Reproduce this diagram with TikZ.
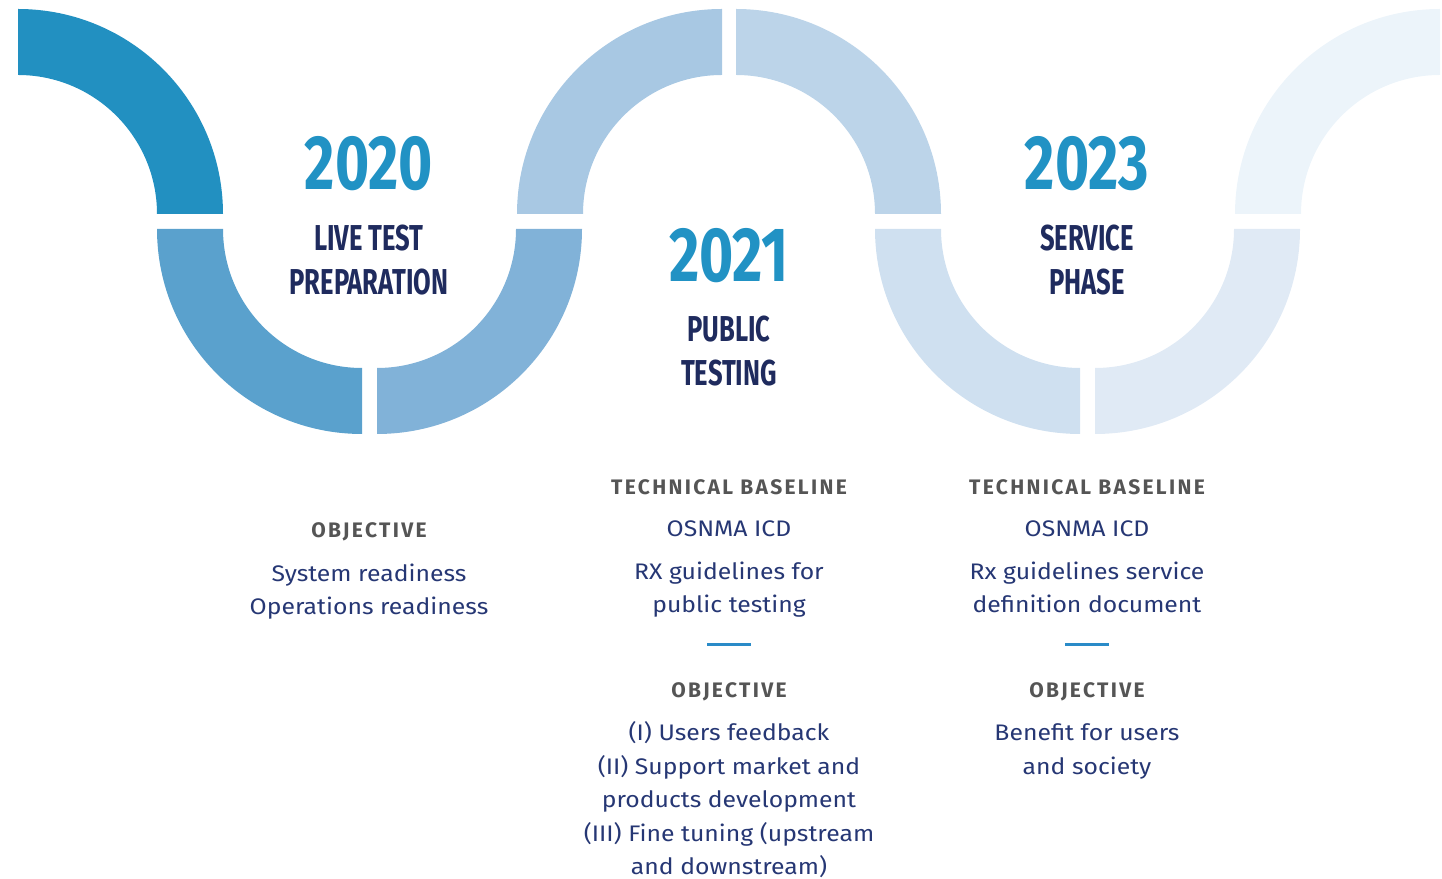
\documentclass[tikz,border=0pt]{standalone}
\usepackage{fontspec}
\setmainfont[FakeStretch=1.1]{Fira Sans}
\newfontfamily\yearfont[FakeStretch=0.76]{Fira Sans}
\newfontfamily\phasefont[FakeStretch=0.71]{Fira Sans}
\newfontfamily\capsfont[LetterSpace=11]{Fira Sans}
\definecolor{bandA}{HTML}{2290C1}
\definecolor{bandB}{HTML}{5AA1CD}
\definecolor{bandC}{HTML}{81B2D8}
\definecolor{bandD}{HTML}{A8C8E3}
\definecolor{bandE}{HTML}{BCD4E9}
\definecolor{bandF}{HTML}{CFE0F0}
\definecolor{bandG}{HTML}{E0EAF5}
\definecolor{bandH}{HTML}{ECF4FA}
\definecolor{yearblue}{HTML}{2192C4}
\definecolor{navy}{HTML}{1F2B5E}
\definecolor{textnavy}{HTML}{263774}
\definecolor{headgray}{HTML}{555555}
\definecolor{ruleblue}{HTML}{2A8BC8}
\tikzset{
  yeartext/.style={anchor=base, inner sep=0pt, text=yearblue, font=\yearfont\bfseries\fontsize{77}{77}\selectfont},
  phasetext/.style={anchor=base, inner sep=0pt, text=navy, font=\phasefont\bfseries\fontsize{36}{36}\selectfont},
  headtext/.style={anchor=base, inner sep=0pt, text=headgray, font=\capsfont\bfseries\fontsize{21}{21}\selectfont},
  bodytext/.style={anchor=base, inner sep=0pt, text=textnavy, font=\fontsize{22.5}{22.5}\selectfont},
  sepline/.style={draw=ruleblue, line width=3pt},
}

\begin{document}
\begin{tikzpicture}[x=1pt,y=1pt]
\useasboundingbox (0,0) rectangle (1442,878);
% wave
\fill[bandA](18,664) ++(0:205) arc(0:90:205) -- ++(90:-66) arc(90:0:139) -- cycle;
\fill[bandB](362,649) ++(180:205) arc(180:270:205) -- ++(270:-66) arc(270:180:139) -- cycle;
\fill[bandC](377,649) ++(270:205) arc(270:360:205) -- ++(0:-66) arc(360:270:139) -- cycle;
\fill[bandD](722,664) ++(90:205) arc(90:180:205) -- ++(180:-66) arc(180:90:139) -- cycle;
\fill[bandE](736,664) ++(0:205) arc(0:90:205) -- ++(90:-66) arc(90:0:139) -- cycle;
\fill[bandF](1080,649) ++(180:205) arc(180:270:205) -- ++(270:-66) arc(270:180:139) -- cycle;
\fill[bandG](1095,649) ++(270:205) arc(270:360:205) -- ++(0:-66) arc(360:270:139) -- cycle;
\fill[bandH](1440,664) ++(90:205) arc(90:180:205) -- ++(180:-66) arc(180:90:139) -- cycle;
% years
\path
(369,688)node[yeartext](y20){2020}
(369,627)node[phasetext](p20a){LIVE TEST}
(369,583)node[phasetext](p20b){PREPARATION}
(729,596)node[yeartext](y21){2021}
(729,536)node[phasetext](p21a){PUBLIC}
(729,492)node[phasetext](p21b){TESTING}
(1087,688)node[yeartext](y23){2023}
(1087,627)node[phasetext](p23a){SERVICE}
(1087,583)node[phasetext](p23b){PHASE};
% 2020
\path
(369,340)node[headtext](obA){OBJECTIVE}
(369,296)node[bodytext](obA1){System readiness}
(369,263)node[bodytext](obA2){Operations readiness};
% 2021
\path
(729,383)node[headtext](tbB){TECHNICAL BASELINE}
(729,341)node[bodytext](tbB1){OSNMA ICD}
(729,298)node[bodytext](tbB2){RX guidelines for}
(729,265)node[bodytext](tbB3){public testing}
(729,180)node[headtext](obB){OBJECTIVE}
(729,138)node[bodytext](obB1){(I) Users feedback}
(729,104)node[bodytext](obB2){(II) Support market and}
(729,71)node[bodytext](obB3){products development}
(729,37)node[bodytext](obB4){(III) Fine tuning (upstream}
(729,4)node[bodytext](obB5){and downstream)};
\coordinate(sB1)at(707,233);
\coordinate(sB2)at(751,233);
\draw[sepline](sB1)--(sB2);
% 2023
\path
(1087,383)node[headtext](tbC){TECHNICAL BASELINE}
(1087,341)node[bodytext](tbC1){OSNMA ICD}
(1087,298)node[bodytext](tbC2){Rx guidelines service}
(1087,265)node[bodytext](tbC3){definition document}
(1087,180)node[headtext](obC){OBJECTIVE}
(1087,138)node[bodytext](obC1){Benefit for users}
(1087,104)node[bodytext](obC2){and society};
\coordinate(sC1)at(1065,233);
\coordinate(sC2)at(1109,233);
\draw[sepline](sC1)--(sC2);
\end{tikzpicture}
\end{document}
